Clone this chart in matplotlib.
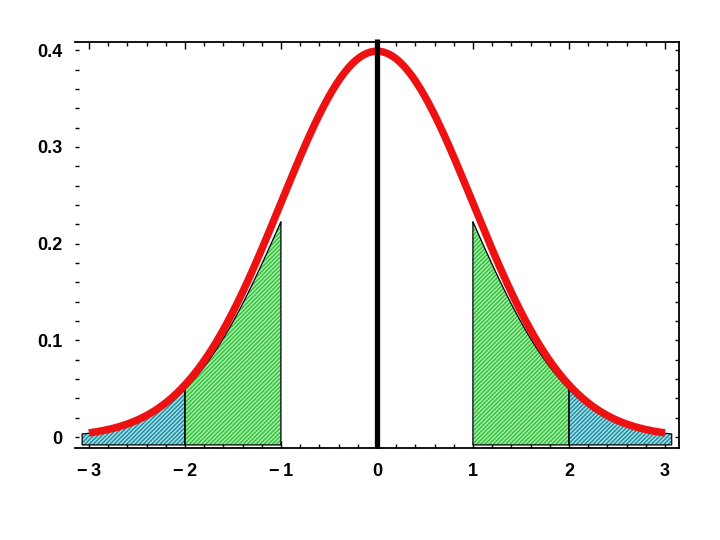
import numpy as np
import matplotlib
matplotlib.use('Agg')
import matplotlib.pyplot as plt
from matplotlib.ticker import MultipleLocator

# standard normal curve, shaded bands (shaded areas are drawn a bit low, as in the original)
curve_range = [-3, 3]
green_bands = [(-2, -1), (1, 2)]
blue_bands = [(-3.07, -2), (2, 3.07)]
shade_scale = 0.92
shade_base = -0.008

xtick_vals = [-3, -2, -1, 0, 1, 2, 3]
xtick_labels = ['\u2212\u20093', '\u2212\u20092', '\u2212\u20091', '0', '1', '2', '3']
ytick_vals = [0, 0.1, 0.2, 0.3, 0.4]
ytick_labels = ['0', '0.1', '0.2', '0.3', '0.4']


def pdf(x):
    return np.exp(-x ** 2 / 2) / np.sqrt(2 * np.pi)


plt.rcParams['font.family'] = ['Liberation Sans', 'DejaVu Sans']
plt.rcParams['hatch.linewidth'] = 1.0

fig = plt.figure(figsize=(7.2, 5.4), dpi=100)
ax = fig.add_axes([0.104, 0.170, 0.839, 0.752])


def shade(a, b, face, hatchc):
    xs = np.linspace(a, b, 200)
    ys = shade_scale * pdf(xs)
    ax.fill_between(xs, shade_base, ys, facecolor=face, edgecolor=hatchc,
                    hatch='////////', linewidth=0, zorder=2)
    ax.fill_between(xs, shade_base, ys, facecolor='none', edgecolor='black',
                    linewidth=0.9, zorder=3)


for a, b in green_bands:
    shade(a, b, '#a6eca6', '#2ec03a')
for a, b in blue_bands:
    shade(a, b, '#a4dfe6', '#1a8aa0')

xs = np.linspace(curve_range[0], curve_range[1], 400)
ax.plot(xs, pdf(xs), color='#ee1111', lw=5.4, solid_capstyle='butt', zorder=4)

ax.plot([0, 0], [-0.0114, 0.412], color='black', lw=3.8, clip_on=False,
        solid_capstyle='butt', zorder=5)

ax.set_xlim(-3.146, 3.146)
ax.set_ylim(-0.0114, 0.4083)

ax.spines['left'].set_visible(False)
for s in ['top', 'right', 'bottom']:
    ax.spines[s].set_linewidth(1.3)

ax.set_xticks(xtick_vals)
ax.set_xticklabels(xtick_labels)
ax.set_yticks(ytick_vals)
ax.set_yticklabels(ytick_labels)
ax.xaxis.set_minor_locator(MultipleLocator(0.2))
ax.yaxis.set_minor_locator(MultipleLocator(0.02))
ax.tick_params(axis='both', which='both', direction='in', top=True, right=True,
               width=1, labelsize=13, colors='black')
ax.tick_params(axis='x', which='major', length=5, pad=11)
ax.tick_params(axis='x', which='minor', length=3)
ax.tick_params(axis='y', which='both', length=3, pad=9)
for lbl in ax.get_xticklabels() + ax.get_yticklabels():
    lbl.set_fontweight('bold')

fig.savefig('out.png', dpi=100)
